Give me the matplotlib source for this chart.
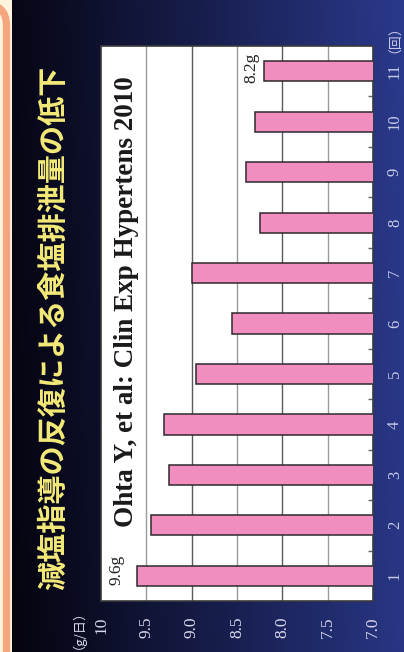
import numpy as np
import matplotlib
matplotlib.use("Agg")
import matplotlib.pyplot as plt
from matplotlib.patches import Rectangle, FancyBboxPatch

# ---- data ----
categories = [1, 2, 3, 4, 5, 6, 7, 8, 9, 10, 11]
cat_labels = ["1", "2", "3", "4", "5", "6", "7", "8", "9", "10", "11"]
salt_values = [9.6, 9.45, 9.25, 9.3, 8.95, 8.55, 9.0, 8.25, 8.4, 8.3, 8.2]
value_ticks = [10, 9.5, 9.0, 8.5, 8.0, 7.5, 7.0]
value_tick_labels = ["10", "9.5", "9.0", "8.5", "8.0", "7.5", "7.0"]
title = "減塩指導の反復による食塩排泄量の低下"
citation = "Ohta Y, et al: Clin Exp Hypertens 2010"
first_label = "9.6g"
last_label = "8.2g"

W, H = 404, 652
fig = plt.figure(figsize=(W / 100, H / 100), dpi=100)

# ---- background (pixel coordinates) ----
bg = fig.add_axes([0, 0, 1, 1])
bg.set_xlim(0, W)
bg.set_ylim(H, 0)
bg.axis("off")

xs = np.linspace(0, 1, 400)
ys = np.linspace(0, 1, 300)
X, Y = np.meshgrid(xs, ys)
t = np.clip(X * 0.92 + (1 - Y) * 0.06, 0, 1) ** 1.05
c0 = np.array([0.02, 0.015, 0.06])
c1 = np.array([0.17, 0.23, 0.56])
img = c0[None, None, :] * (1 - t[..., None]) + c1[None, None, :] * t[..., None]
bg.imshow(img, extent=(12, W, H, 0), aspect="auto", zorder=0)

# left strip (cream + peach rounded border)
bg.add_patch(Rectangle((0, 0), 12, H, facecolor="#fcf4dc", edgecolor="none", zorder=1))
bg.add_patch(FancyBboxPatch((-60, 4), 66.5, H + 40,
                            boxstyle="round,pad=0,rounding_size=22",
                            facecolor="none", edgecolor="#f6a67f", linewidth=5.2, zorder=2))

# ---- chart axes (drawn sideways) ----
ax = fig.add_axes([101 / W, 1 - 601 / H, (373 - 101) / W, (601 - 46) / H])
ax.set_facecolor("white")
ax.set_xlim(10, 7)
ax.set_ylim(0.5, 11.5)

for v in value_ticks[1:-1]:
    col = "#5a5a5a" if float(v).is_integer() else "#9a9a9a"
    ax.axvline(v, color=col, lw=1.0, zorder=1)

ax.barh(categories, salt_values, height=0.4, left=0,
        color="#f28ebf", edgecolor="#2e2a2e", linewidth=1.1, zorder=3)

for s in ax.spines.values():
    s.set_color("#3a3a3a")
    s.set_linewidth(1.2)

ax.set_xticks(value_ticks)
ax.set_xticklabels(value_tick_labels, rotation=90, color="#d8d8ec",
                   fontfamily="Liberation Serif", fontsize=12.5)
ax.tick_params(axis="x", length=0, pad=11)

ax.yaxis.tick_right()
ax.set_yticks(categories)
ax.set_yticklabels(cat_labels, rotation=90, color="#c8cae8",
                   fontfamily="Liberation Serif", fontsize=12, va="center")
ax.tick_params(axis="y", which="major", length=0, pad=10)
ax.set_yticks([c + 0.5 for c in categories[:-1]], minor=True)
ax.tick_params(axis="y", which="minor", direction="in", length=3.5,
               color="#666666", width=1)

ax.text(9.83, 1.12, first_label, rotation=90, ha="center", va="center",
        fontsize=12.5, fontfamily="Liberation Serif", color="#222222", zorder=4)
ax.text(8.34, 11.06, last_label, rotation=90, ha="center", va="center",
        fontsize=12.5, fontfamily="Liberation Serif", color="#222222", zorder=4)

ax.text(9.715, 6.43, citation, rotation=90, ha="center", va="center",
        fontsize=19.5, fontfamily="Liberation Serif", fontweight="bold",
        color="#1a1a1a", zorder=5)

# ---- title and unit labels ----
fig.text(53 / W, 1 - 328 / H, title, rotation=90, ha="center", va="center",
         fontsize=21, color="#f3ea78", fontweight="bold",
         family=["Noto Sans CJK JP", "DejaVu Sans"])
fig.text(72 / W, 1 - 623 / H, "（g/日）", rotation=90, ha="center", va="center",
         fontsize=9.5, color="#d8d8ec",
         family=["Noto Sans CJK JP", "DejaVu Sans"])
fig.text(388 / W, 1 - 32 / H, "（回）", rotation=90, ha="center", va="center",
         fontsize=10, color="#c8cae8",
         family=["Noto Sans CJK JP", "DejaVu Sans"])

fig.savefig("out.png", dpi=100)
